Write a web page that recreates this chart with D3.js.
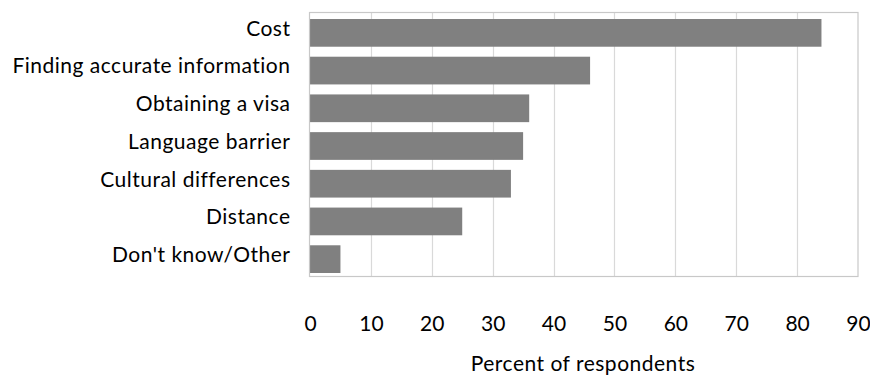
<!DOCTYPE html>
<html>
<head>
<meta charset="utf-8">
<script src="https://cdn.jsdelivr.net/npm/d3@7"></script>
<style>
  html, body { margin: 0; padding: 0; background: #ffffff; }
  svg { display: block; }
  text { font-family: Lato, "Open Sans", sans-serif; fill: #000; }
</style>
</head>
<body>
<svg id="chart" width="870" height="375"></svg>
<script>
// Obstacles reported by respondents
const categories = [
  "Cost",
  "Finding accurate information",
  "Obtaining a visa",
  "Language barrier",
  "Cultural differences",
  "Distance",
  "Don't know/Other"
];
const values = [84, 46, 36, 35, 33, 25, 5];
const tickValues = [0, 10, 20, 30, 40, 50, 60, 70, 80, 90];
const axisTitle = "Percent of respondents";

const plot = { left: 310, right: 858, top: 12, bottom: 276 };
const fontSize = 21;
const tracking = 0.5;

const svg = d3.select("#chart");

const x = d3.scaleLinear().domain([0, 90]).range([plot.left, plot.right]);
const y = d3.scaleBand()
  .domain(categories)
  .range([plot.top + 2, plot.bottom + 2])
  .paddingInner(0.265)
  .paddingOuter(0.1325);

// vertical gridlines
svg.append("g")
  .selectAll("line")
  .data(tickValues.slice(1, -1))
  .join("line")
  .attr("x1", d => Math.round(x(d)) + 0.5)
  .attr("x2", d => Math.round(x(d)) + 0.5)
  .attr("y1", plot.top)
  .attr("y2", plot.bottom)
  .attr("stroke", "#d9d9d9")
  .attr("stroke-width", 1.2);

// bars
svg.append("g")
  .selectAll("rect")
  .data(categories)
  .join("rect")
  .attr("x", x(0))
  .attr("y", d => y(d))
  .attr("width", (d, i) => x(values[i]) - x(0))
  .attr("height", y.bandwidth())
  .attr("fill", "#808080");

// plot frame
svg.append("rect")
  .attr("x", plot.left - 0.5)
  .attr("y", plot.top + 0.5)
  .attr("width", plot.right - plot.left + 0.5)
  .attr("height", plot.bottom - plot.top)
  .attr("fill", "none")
  .attr("stroke", "#c8c8c8")
  .attr("stroke-width", 1.2);

// category labels
svg.append("g")
  .selectAll("text")
  .data(categories)
  .join("text")
  .attr("x", 290 + tracking)
  .attr("y", d => y(d) + y.bandwidth() / 2 + 2.8)
  .attr("text-anchor", "end")
  .style("font-size", fontSize + "px")
  .style("letter-spacing", tracking + "px")
  .text(d => d);

// x axis tick labels
const xAxis = d3.axisBottom(x).tickValues(tickValues).tickSize(0).tickPadding(0);
const gx = svg.append("g")
  .attr("transform", `translate(0, 331)`)
  .call(xAxis);
gx.select(".domain").remove();
gx.selectAll("text")
  .attr("y", 0)
  .attr("dy", null)
  .style("font-family", "Lato, 'Open Sans', sans-serif")
  .style("font-size", fontSize + "px")
  .attr("fill", "#000");

// axis title
svg.append("text")
  .attr("x", (plot.left + plot.right) / 2 - 1)
  .attr("y", 370.5)
  .attr("text-anchor", "middle")
  .style("font-size", fontSize + "px")
  .style("letter-spacing", tracking + "px")
  .text(axisTitle);
</script>
</body>
</html>
